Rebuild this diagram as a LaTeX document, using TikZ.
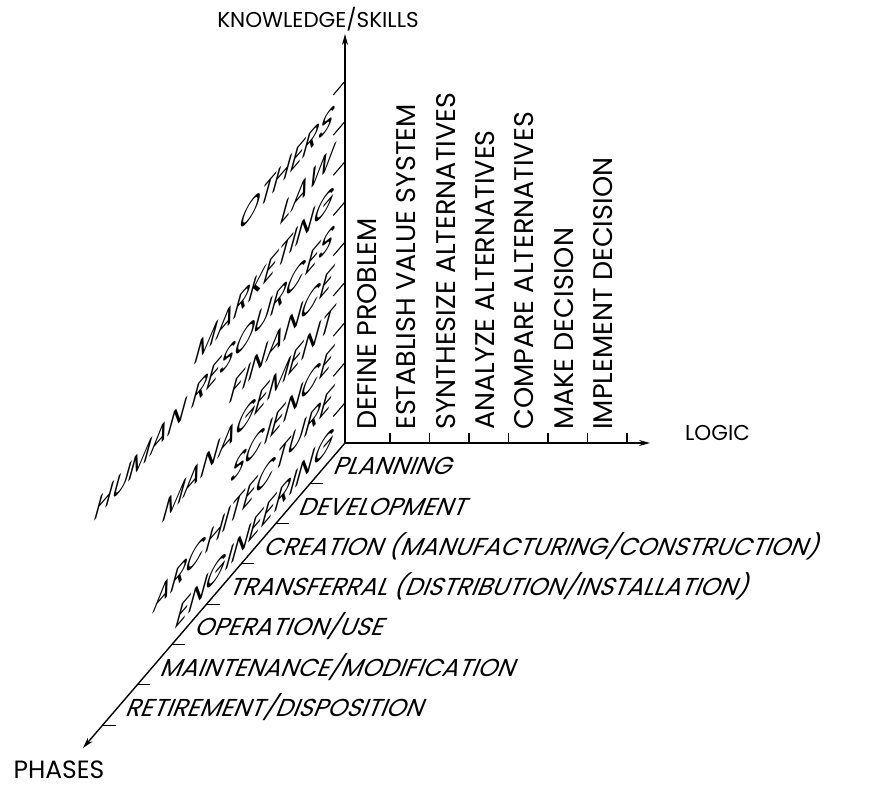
\documentclass[tikz,border=0pt]{standalone}
\usepackage{fontspec}
\usepackage{tikz}
\usetikzlibrary{arrows.meta, positioning}
\newfontfamily\gothic{Poppins}
\newfontfamily\gothicsl{Poppins}[FakeSlant=0.4]
\newcommand{\stepfont}{\fontsize{27}{32}\selectfont\gothic}
\newcommand{\phasefont}{\fontsize{24.5}{29}\selectfont\gothicsl}
\newcommand{\fieldfont}{\fontsize{25}{30}\selectfont\gothicsl}
\tikzstyle{axis} = [line width=1.4pt, -{Stealth[length=11pt, width=6pt]}]
\tikzstyle{tick} = [line width=1.1pt]
\tikzstyle{title} = [inner sep=0pt, font=\fontsize{21.5}{25}\selectfont\gothic]
\tikzstyle{logiclab} = [inner sep=0pt, rotate=90, anchor=base west, font=\stepfont]
\tikzstyle{phaselab} = [inner sep=0pt, anchor=base west, font=\phasefont]
\tikzstyle{fieldlab} = [inner sep=0pt, anchor=base east, font=\fieldfont, yslant=1.163, transform shape]

\begin{document}
\begin{tikzpicture}[x=1pt, y=1pt]
        \useasboundingbox (-345,-343) rectangle (543,443);
        \coordinate (O) at (0,0);
        \coordinate (K) at (0,409);
        \coordinate (L) at (305,0);
        \coordinate (P) at (-262,-305);

        \draw[axis] (O) -- (K);
        \draw[axis] (O) -- (L);
        \draw[axis] (O) -- (P);

        \node (know) [title, above=3pt of K, xshift=-27pt] {KNOWLEDGE/SKILLS};
        \node (logic) [title, right=35pt of L, yshift=10pt] {LOGIC};
        \node (phases) [title, below=13pt of P, xshift=-24pt, font=\fontsize{25}{30}\selectfont\gothic] {PHASES};

        % ticks
        \draw[tick] (0,40.2) -- ++(-11.7,-13.7) (0,80.4) -- ++(-11.7,-13.7)
            (0,120.6) -- ++(-11.7,-13.7) (0,160.8) -- ++(-11.7,-13.7)
            (0,201) -- ++(-11.7,-13.7) (0,241.2) -- ++(-11.7,-13.7)
            (0,281.4) -- ++(-11.7,-13.7) (0,321.6) -- ++(-11.7,-13.7)
            (0,361.8) -- ++(-11.7,-13.7);
        \draw[tick] (45,0) -- ++(0,10) (84.5,0) -- ++(0,10) (124,0) -- ++(0,10)
            (163.5,0) -- ++(0,10) (203,0) -- ++(0,10) (242.5,0) -- ++(0,10)
            (282,0) -- ++(0,10);
        \draw[tick] (-34.6,-40.3) -- ++(13,0) (-69.2,-80.6) -- ++(13,0)
            (-103.8,-120.9) -- ++(13,0) (-138.4,-161.2) -- ++(13,0)
            (-173,-201.5) -- ++(13,0) (-207.6,-241.8) -- ++(13,0)
            (-242.2,-282.1) -- ++(13,0);

        % logic steps
        \node (define) [logiclab] at (31.5,13) {DEFINE PROBLEM};
        \node (values) [logiclab] at (70.8,13) {ESTABLISH VALUE SYSTEM};
        \node (synth) [logiclab] at (110.1,13) {SYNTHESIZE ALTERNATIVES};
        \node (analyze) [logiclab] at (149.4,13) {ANALYZE ALTERNATIVES};
        \node (compare) [logiclab] at (188.7,13) {COMPARE ALTERNATIVES};
        \node (decide) [logiclab] at (228,13) {MAKE DECISION};
        \node (implement) [logiclab] at (267.3,13) {IMPLEMENT DECISION};

        % phases
        \node (planning) [phaselab] at (-12.9,-31.8) {PLANNING};
        \node (develop) [phaselab] at (-47.5,-72.1) {DEVELOPMENT};
        \node (creation) [phaselab] at (-82.2,-112.4) {CREATION (MANUFACTURING/CONSTRUCTION)};
        \node (transfer) [phaselab] at (-116.8,-152.7) {TRANSFERRAL (DISTRIBUTION/INSTALLATION)};
        \node (operation) [phaselab] at (-151.4,-193) {OPERATION/USE};
        \node (maintain) [phaselab] at (-186,-233.3) {MAINTENANCE/MODIFICATION};
        \node (retire) [phaselab] at (-220.6,-273.6) {RETIREMENT/DISPOSITION};

        % knowledge fields
        \node (eng) [fieldlab] at (-14,-4.7) {ENGINEERING};
        \node (arch) [fieldlab] at (-14,35.5) {ARCHITECTURE};
        \node (sci) [fieldlab] at (-14,75.7) {SCIENCE};
        \node (mgmt) [fieldlab] at (-14,115.9) {MANAGEMENT};
        \node (fin) [fieldlab] at (-14,156.1) {FINANCE};
        \node (hr) [fieldlab] at (-14,196.3) {HUMAN RESOURCES};
        \node (mkt) [fieldlab] at (-14,236.5) {MARKETING};
        \node (law) [fieldlab] at (-14,276.7) {LAW};
        \node (others) [fieldlab] at (-14,316.9) {OTHERS};
    \end{tikzpicture}
\end{document}
